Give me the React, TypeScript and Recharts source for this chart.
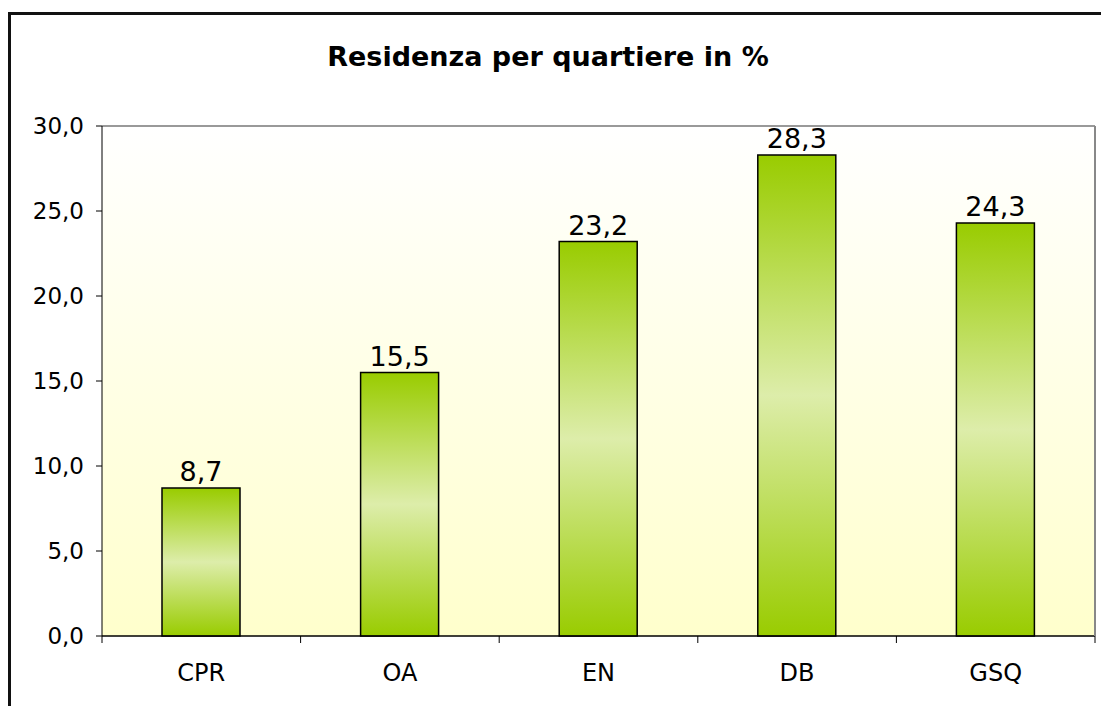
import { BarChart, Bar, XAxis, YAxis, CartesianGrid, ReferenceLine, LabelList } from "recharts";

const categories = ["CPR", "OA", "EN", "DB", "GSQ"];
const values = [8.7, 15.5, 23.2, 28.3, 24.3];
const yTicks = [0, 5, 10, 15, 20, 25, 30];

const data = categories.map((name, i) => ({ name, pos: i + 0.5, value: values[i] }));
const xTicks = Array.from({ length: categories.length * 2 + 1 }, (_, i) => i / 2);

const FONT = "'DejaVu Sans', Verdana, sans-serif";
const fmt = (v: number) => v.toFixed(1).replace(".", ",");

function CatTick(props: any) {
  const { x, y, payload } = props;
  const v = payload.value as number;
  if (Number.isInteger(v)) {
    return <line x1={x} x2={x} y1={y} y2={y + 7} stroke="#000" strokeWidth={1} />;
  }
  const label = categories[Math.floor(v)];
  return (
    <text x={x} y={y + 45} textAnchor="middle" fontSize={24} fontFamily={FONT} fill="#000">
      {label}
    </text>
  );
}

export default function App() {
  return (
    <div style={{ position: "absolute", left: 0, top: 0, width: 1101, height: 706, overflow: "hidden", background: "#fff" }}>
      <div
        style={{
          position: "absolute",
          left: 8,
          top: 12,
          width: 1200,
          height: 800,
          borderTop: "3px solid #111",
          borderLeft: "3px solid #111",
        }}
      />
      <div
        style={{
          position: "absolute",
          left: 0,
          width: 1096,
          top: 41,
          textAlign: "center",
          fontFamily: FONT,
          fontWeight: "bold",
          fontSize: 27,
        }}
      >
        Residenza per quartiere in %
      </div>
      <div style={{ position: "absolute", left: 0, top: 0 }}>
        <BarChart width={1101} height={706} data={data} margin={{ top: 126, right: 0, left: 0, bottom: 0 }}>
          <defs>
            <linearGradient id="bgGrad" x1="0" y1="0" x2="0" y2="1">
              <stop offset="0%" stopColor="#FFFFFF" />
              <stop offset="100%" stopColor="#FFFFCC" />
            </linearGradient>
            <linearGradient id="barGrad" x1="0" y1="0" x2="0" y2="1">
              <stop offset="0%" stopColor="#99CC00" />
              <stop offset="50%" stopColor="#DDEDAA" />
              <stop offset="100%" stopColor="#99CC00" />
            </linearGradient>
          </defs>
          <CartesianGrid vertical={false} stroke="#000" strokeWidth={1} fill="url(#bgGrad)" fillOpacity={1} />
          <XAxis
            dataKey="pos"
            type="number"
            domain={[0, 5]}
            ticks={xTicks}
            interval={0}
            height={70}
            tickLine={false}
            tickSize={0}
            tickMargin={0}
            axisLine={{ stroke: "#000", strokeWidth: 1 }}
            tick={<CatTick />}
          />
          <YAxis
            yAxisId="l"
            domain={[0, 30]}
            ticks={yTicks}
            width={102}
            tickSize={6}
            tickMargin={12}
            tickFormatter={fmt}
            axisLine={{ stroke: "#000", strokeWidth: 1 }}
            tickLine={{ stroke: "#000" }}
            tick={{ fontSize: 23, fontFamily: FONT, fill: "#000" }}
          />
          <YAxis
            yAxisId="r"
            orientation="right"
            domain={[0, 30]}
            width={6}
            tick={false}
            tickLine={false}
            axisLine={{ stroke: "#888", strokeWidth: 2 }}
          />
          <ReferenceLine yAxisId="l" y={30} stroke="#999" strokeWidth={2} />
          <Bar yAxisId="l" dataKey="value" barSize={78} fill="url(#barGrad)" stroke="#000" strokeWidth={1.5} isAnimationActive={false}>
            <LabelList dataKey="value" position="top" offset={7} formatter={(v: any) => fmt(Number(v))} style={{ fontSize: 27, fontFamily: FONT, fill: "#000" }} />
          </Bar>
        </BarChart>
      </div>
    </div>
  );
}
